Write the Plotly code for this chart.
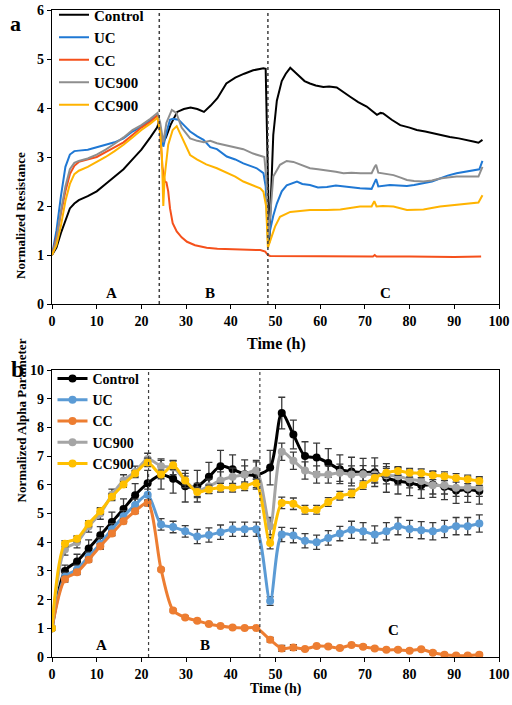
import plotly.graph_objects as go

# ---------------- Panel a : Normalized Resistance ----------------
ctrl_t = [0, 1, 2, 3, 4, 5, 6, 8, 10, 12, 14, 16, 18, 20, 22, 23.5, 23.9, 24.3, 24.8, 25.5, 26.5, 28, 29.5, 31,
          32.5, 34, 35.5, 37, 39, 41, 43, 45, 47.3, 47.8, 48.6, 49.0, 49.5, 50.3, 51.4, 52.3, 53.3, 54.5, 55.5,
          56.5, 57.7, 59, 60.7, 62, 63.7, 65.2, 66.7, 68.5, 70.4, 71.5, 72.7, 73.5, 74.1, 76, 77.9, 80, 81.6,
          83.5, 85.3, 87, 89, 91, 92.8, 94.5, 95.4, 96.3]
ctrl_v = [1.0, 1.15, 1.45, 1.7, 1.95, 2.05, 2.12, 2.2, 2.3, 2.45, 2.6, 2.75, 2.95, 3.15, 3.4, 3.6, 3.7, 3.45, 3.3,
          3.4, 3.65, 3.92, 3.98, 4.01, 3.98, 3.92, 4.05, 4.2, 4.5, 4.62, 4.7, 4.77, 4.81, 4.8, 1.25, 2.4, 3.45,
          4.15, 4.55, 4.7, 4.82, 4.72, 4.64, 4.55, 4.5, 4.46, 4.43, 4.44, 4.42, 4.32, 4.23, 4.12, 4.03, 3.95,
          3.86, 3.9, 3.89, 3.76, 3.65, 3.6, 3.55, 3.52, 3.48, 3.45, 3.41, 3.38, 3.35, 3.31, 3.29, 3.35]

uc_t = [0, 1, 2, 3, 4, 5, 6, 8, 10, 12, 14, 16, 18, 20, 22, 23.6, 24.2, 24.9, 25.6, 26.4, 27, 28.3, 29.5, 30.9,
        32.5, 33.9, 35.4, 36.9, 39.1, 41, 42.8, 44.5, 45.8, 47.3, 47.8, 48.3, 48.8, 49.5, 50.3, 51.4, 52.5, 54.8,
        56, 57.7, 59.5, 61.5, 63.5, 65.2, 67, 68.9, 71.5, 72.2, 72.5, 73, 75.6, 77.5, 79.4, 81, 83.1, 85, 86.8,
        88.5, 90.5, 92.5, 94.5, 95.6, 96.3]
uc_v = [1.0, 1.5, 2.2, 2.8, 3.05, 3.12, 3.13, 3.15, 3.2, 3.25, 3.3, 3.38, 3.52, 3.62, 3.75, 3.85, 3.6, 3.21, 3.5,
        3.76, 3.78, 3.76, 3.65, 3.52, 3.42, 3.35, 3.2, 3.16, 3.01, 2.95, 2.87, 2.82, 2.77, 2.67, 2.4, 1.3, 1.5,
        1.8, 2.05, 2.3, 2.42, 2.5, 2.45, 2.43, 2.38, 2.39, 2.42, 2.4, 2.38, 2.36, 2.35, 2.5, 2.55, 2.4, 2.43,
        2.42, 2.41, 2.43, 2.46, 2.5, 2.56, 2.62, 2.67, 2.7, 2.74, 2.75, 2.92]

cc_t = [0, 1, 2, 3, 4, 5, 6, 8, 10, 12, 14, 16, 18, 20, 22, 23.6, 24.2, 24.7, 25.2, 25.6, 26, 26.4, 27, 27.9, 29,
        30.2, 32, 34.6, 37, 40.6, 44, 46.6, 47.7, 48.3, 48.8, 52, 60, 70, 71.8, 72.2, 72.6, 80, 90, 96]
cc_v = [1.0, 1.35, 1.85, 2.3, 2.65, 2.82, 2.9, 2.95, 3.0, 3.1, 3.2, 3.3, 3.45, 3.6, 3.72, 3.85, 3.5, 2.8, 2.5,
        2.48, 2.3, 1.95, 1.65, 1.48, 1.36, 1.27, 1.2, 1.15, 1.13, 1.12, 1.11, 1.1, 1.07, 1.0, 0.98, 0.98, 0.97,
        0.97, 0.97, 1.0, 0.97, 0.97, 0.96, 0.97]

uc9_t = [0, 1, 2, 3, 4, 5, 6, 8, 10, 12, 14, 16, 18, 20, 22, 23.6, 24.2, 24.9, 25.6, 26.8, 27.8, 29, 30.9, 32.5,
         34, 35.4, 36.9, 39.1, 40.6, 42.8, 45, 46.5, 47.5, 48.0, 48.4, 48.9, 49.5, 51, 52.5, 54, 55.8, 57.7,
         59.5, 61.5, 63.5, 65.2, 67, 69, 71.5, 72.2, 72.5, 73, 74.5, 76.4, 78, 79.4, 81, 83.1, 85, 86.8, 88.5,
         90.5, 92.5, 95.4, 96.3]
uc9_v = [1.0, 1.3, 1.9, 2.4, 2.75, 2.88, 2.92, 2.97, 3.05, 3.15, 3.27, 3.4, 3.55, 3.65, 3.78, 3.9, 3.7, 3.3, 3.7,
         3.96, 3.9, 3.6, 3.38, 3.33, 3.3, 3.33, 3.28, 3.24, 3.21, 3.16, 3.07, 3.03, 3.0, 2.5, 1.35, 1.9, 2.6,
         2.84, 2.92, 2.9, 2.84, 2.77, 2.75, 2.73, 2.7, 2.67, 2.68, 2.67, 2.67, 2.8, 2.84, 2.68, 2.66, 2.63, 2.58,
         2.53, 2.51, 2.5, 2.52, 2.56, 2.58, 2.6, 2.6, 2.6, 2.8]

cc9_t = [0, 1, 2, 3, 4, 5, 6, 8, 10, 12, 14, 16, 18, 20, 22, 23.6, 24.2, 24.6, 24.9, 25.2, 26, 27, 27.9, 29.4,
         30.9, 32.4, 34.5, 36.9, 39.1, 41, 42.8, 44.5, 46.6, 47.3, 47.9, 48.3, 48.8, 49.9, 51, 53.3, 55.5, 57.7,
         61.5, 64.5, 68.9, 71.5, 72.1, 72.6, 74, 76.4, 79.4, 83.1, 86.8, 90.5, 93, 95.4, 96.3]
cc9_v = [1.0, 1.2, 1.6, 2.1, 2.45, 2.65, 2.72, 2.8, 2.9, 3.0, 3.12, 3.25, 3.4, 3.55, 3.68, 3.8, 3.5, 3.0, 2.0,
         2.6, 3.25, 3.55, 3.63, 3.35, 3.04, 2.95, 2.85, 2.77, 2.67, 2.6, 2.5, 2.44, 2.36, 2.29, 2.0, 1.15, 1.3,
         1.58, 1.78, 1.88, 1.9, 1.92, 1.92, 1.93, 1.99, 1.99, 2.1, 1.99, 2.0, 1.99, 1.92, 1.93, 1.99, 2.02, 2.05,
         2.07, 2.22]

phase_bounds_a = [24, 48.3]
phase_labels = ["A", "B", "C"]
phase_label_x_a = [13.3, 35.4, 74.5]
phase_label_y_a = [0.22, 0.22, 0.22]

# ---------------- Panel b : Normalized Alpha Parameter ----------------
tb = [0, 2.9, 5.6, 8.2, 10.8, 13.4, 16.0, 18.6, 21.4, 24.4, 27.1, 29.8, 32.5, 35.1, 37.7, 40.4, 43.1, 45.7,
      48.8, 51.4, 54.0, 56.6, 59.2, 61.8, 64.4, 67.0, 69.6, 72.2, 74.8, 77.4, 80.0, 82.6, 85.2, 87.8, 90.4,
      93.0, 95.6]
ctrl_b = [1.0, 3.0, 3.33, 3.78, 4.24, 4.7, 5.16, 5.64, 6.05, 6.35, 6.21, 5.95, 5.95, 6.28, 6.65, 6.54, 6.37,
          6.35, 6.6, 8.5, 7.75, 7.0, 6.95, 6.76, 6.54, 6.46, 6.42, 6.44, 6.24, 6.13, 6.07, 5.98, 6.01, 5.93,
          5.8, 5.84, 5.78]
uc_b = [1.0, 2.8, 3.05, 3.5, 3.95, 4.45, 4.9, 5.3, 5.65, 4.62, 4.53, 4.38, 4.2, 4.25, 4.35, 4.45, 4.45, 4.45,
        1.95, 4.27, 4.23, 4.05, 4.0, 4.15, 4.3, 4.43, 4.38, 4.27, 4.38, 4.56, 4.46, 4.42, 4.38, 4.46, 4.56,
        4.56, 4.65]
cc_b = [1.0, 2.71, 2.95, 3.39, 3.86, 4.3, 4.73, 5.08, 5.37, 3.05, 1.62, 1.38, 1.26, 1.15, 1.08, 1.03, 1.01,
        1.01, 0.6, 0.3, 0.33, 0.28, 0.38, 0.37, 0.31, 0.42, 0.36, 0.3, 0.25, 0.25, 0.22, 0.27, 0.15, 0.08, 0.05,
        0.05, 0.08]
uc9_b = [1.0, 3.75, 4.0, 4.55, 5.0, 5.65, 6.15, 6.45, 6.9, 6.65, 6.6, 6.15, 5.8, 5.95, 6.15, 6.28, 6.36, 6.5,
         4.56, 7.15, 6.84, 6.5, 6.36, 6.36, 6.42, 6.36, 6.37, 6.36, 6.33, 6.3, 6.19, 6.13, 5.98, 5.98, 5.9, 5.9,
         5.9]
cc9_b = [1.0, 3.95, 4.12, 4.64, 5.08, 5.58, 6.01, 6.39, 6.78, 6.36, 6.68, 6.15, 5.75, 5.84, 5.9, 5.9, 5.95,
         6.05, 3.97, 5.37, 5.34, 5.13, 5.13, 5.4, 5.62, 5.7, 5.99, 6.24, 6.42, 6.48, 6.42, 6.4, 6.33, 6.3, 6.24,
         6.19, 6.13]

ctrl_err = [0, 0.2, 0.25, 0.3, 0.3, 0.35, 0.35, 0.4, 0.45, 0.5, 0.5, 0.55, 0.55, 0.5, 0.55, 0.5, 0.5, 0.5, 0.6,
            0.55, 0.5, 0.5, 0.5, 0.5, 0.5, 0.5, 0.5, 0.5, 0.5, 0.45, 0.45, 0.45, 0.45, 0.45, 0.45, 0.45, 0.45]
uc_err = [0, 0.15, 0.15, 0.15, 0.2, 0.2, 0.2, 0.2, 0.2, 0.2, 0.2, 0.2, 0.25, 0.25, 0.25, 0.25, 0.25, 0.25, 0.15,
          0.25, 0.25, 0.25, 0.25, 0.25, 0.25, 0.3, 0.3, 0.3, 0.3, 0.3, 0.3, 0.3, 0.3, 0.3, 0.3, 0.3, 0.3]
cc_err = [0, 0.1, 0.08, 0.08, 0.08, 0.08, 0.08, 0.08, 0.1, 0.05, 0.05, 0.05, 0.05, 0.05, 0.05, 0.05, 0.05, 0.05,
          0.08, 0.1, 0.1, 0.05, 0.05, 0.05, 0.05, 0.05, 0.05, 0.05, 0.05, 0.05, 0.05, 0.05, 0.05, 0.05, 0.05,
          0.05, 0.05]
uc9_err = [0, 0.2, 0.2, 0.2, 0.2, 0.2, 0.2, 0.2, 0.2, 0.25, 0.25, 0.25, 0.25, 0.25, 0.3, 0.3, 0.3, 0.3, 0.3,
           0.3, 0.3, 0.3, 0.3, 0.3, 0.3, 0.3, 0.3, 0.3, 0.3, 0.3, 0.3, 0.3, 0.3, 0.3, 0.3, 0.3, 0.3]
cc9_err = [0, 0.1, 0.1, 0.1, 0.1, 0.1, 0.1, 0.1, 0.15, 0.15, 0.15, 0.15, 0.15, 0.15, 0.15, 0.15, 0.15, 0.15,
           0.2, 0.2, 0.2, 0.15, 0.15, 0.15, 0.15, 0.15, 0.15, 0.15, 0.15, 0.15, 0.15, 0.15, 0.15, 0.15, 0.15,
           0.15, 0.15]

phase_bounds_b = [21.6, 46.5]
phase_label_x_b = [11.0, 34.3, 76.4]
phase_label_y_b = [0.42, 0.42, 0.95]

names = ["Control", "UC", "CC", "UC900", "CC900"]
colors_a = ["#000000", "#1F78D4", "#F5501B", "#8E8E8E", "#FFB300"]
colors_b = ["#000000", "#5B9BD5", "#ED7D31", "#A5A5A5", "#FFC000"]

SERIF = "Liberation Serif, Times New Roman, serif"

fig = go.Figure()

series_a = [(ctrl_t, ctrl_v), (uc_t, uc_v), (cc_t, cc_v), (uc9_t, uc9_v), (cc9_t, cc9_v)]
for (t, v), n, c in zip(series_a, names, colors_a):
    fig.add_trace(go.Scatter(x=t, y=v, mode="lines", name=n, line=dict(color=c, width=2),
                             xaxis="x", yaxis="y", legend="legend"))

series_b = [(ctrl_b, ctrl_err), (uc_b, uc_err), (cc_b, cc_err), (uc9_b, uc9_err), (cc9_b, cc9_err)]
for (v, e), n, c in zip(series_b, names, colors_b):
    fig.add_trace(go.Scatter(x=tb, y=v, mode="lines+markers", name=n,
                             line=dict(color=c, width=3, shape="spline", smoothing=0.8),
                             marker=dict(color=c, size=8),
                             error_y=dict(type="data", array=e, visible=True, color="#3A3A3A",
                                          thickness=1.3, width=3.5),
                             xaxis="x2", yaxis="y2", legend="legend2"))

axis_font = dict(family=SERIF, size=14, color="black", weight="bold")
common_x = dict(range=[0, 100], dtick=10, ticks="outside", ticklen=4, tickwidth=1.2, tickcolor="black",
                showline=True, linecolor="black", linewidth=1.3, mirror=True, showgrid=False,
                zeroline=False, tickfont=axis_font, automargin=False)
common_y = dict(ticks="outside", ticklen=4, tickwidth=1.2, tickcolor="black", dtick=1,
                showline=True, linecolor="black", linewidth=1.3, mirror=True, showgrid=False,
                zeroline=False, tickfont=axis_font, automargin=False)

W, H = 512, 705
xdom = [52 / W, 499 / W]
ydom_a = [1 - 304 / H, 1 - 10 / H]
ydom_b = [1 - 657 / H, 1 - 370 / H]

shapes = []
for xb in phase_bounds_a:
    shapes.append(dict(type="line", xref="x", yref="y domain", x0=xb, x1=xb, y0=0, y1=1,
                       line=dict(color="#404040", width=1.5, dash="dot")))
for xb in phase_bounds_b:
    shapes.append(dict(type="line", xref="x2", yref="y2 domain", x0=xb, x1=xb, y0=0, y1=1,
                       line=dict(color="#404040", width=1.2, dash="dot")))

lab_font = dict(family=SERIF, size=15, color="black", weight="bold")
annotations = []
for lx, ly, lt in zip(phase_label_x_a, phase_label_y_a, phase_labels):
    annotations.append(dict(x=lx, y=ly, xref="x", yref="y", text=lt, showarrow=False, font=lab_font))
for lx, ly, lt in zip(phase_label_x_b, phase_label_y_b, phase_labels):
    annotations.append(dict(x=lx, y=ly, xref="x2", yref="y2", text=lt, showarrow=False, font=lab_font))

title_font = dict(family=SERIF, size=16, color="black", weight="bold")
ylab_font = dict(family=SERIF, size=13, color="black", weight="bold")
annotations += [
    dict(x=276 / W, y=1 - 344 / H, xref="paper", yref="paper", text="Time (h)", showarrow=False,
         font=title_font),
    dict(x=276 / W, y=1 - 698 / H, xref="paper", yref="paper", text="Time (h)", showarrow=False,
         borderpad=0, font=dict(family=SERIF, size=14, color="black", weight="bold")),
    dict(x=11 / W, y=1 - 150 / H, xref="paper", yref="paper", text="Normalized Resistance",
         showarrow=False, textangle=-90, font=ylab_font),
    dict(x=11 / W, y=1 - 505 / H, xref="paper", yref="paper", text="Normalized Alpha Parameter",
         showarrow=False, textangle=-90, font=ylab_font),
    dict(x=8 / W, y=1 - 9 / H, xref="paper", yref="paper", text="a", showarrow=False,
         font=dict(family=SERIF, size=22, color="black", weight="bold")),
    dict(x=9 / W, y=1 - 369 / H, xref="paper", yref="paper", text="b", showarrow=False,
         font=dict(family=SERIF, size=24, color="black", weight="bold")),
]

fig.update_layout(
    width=W, height=H,
    margin=dict(l=0, r=0, t=0, b=0, autoexpand=False),
    paper_bgcolor="white", plot_bgcolor="white",
    xaxis=dict(domain=xdom, anchor="y", **common_x),
    yaxis=dict(domain=ydom_a, anchor="x", range=[0, 6], **common_y),
    xaxis2=dict(domain=xdom, anchor="y2", **common_x),
    yaxis2=dict(domain=ydom_b, anchor="x2", range=[0, 10], **common_y),
    legend=dict(x=54 / W, y=1 + 1.6 / H, xanchor="left", yanchor="top",
                bgcolor="rgba(255,255,255,0)", itemwidth=30, tracegroupgap=0,
                font=dict(family=SERIF, size=15, color="black", weight="bold")),
    legend2=dict(x=52.5 / W, y=1 - 363 / H, xanchor="left", yanchor="top",
                 bgcolor="rgba(255,255,255,0)", itemwidth=30, tracegroupgap=0,
                 font=dict(family=SERIF, size=14, color="black", weight="bold")),
    shapes=shapes,
    annotations=annotations,
    showlegend=True,
)

fig.write_html("out.html", config={"displayModeBar": False},
               post_script="document.body.style.margin='0';")
